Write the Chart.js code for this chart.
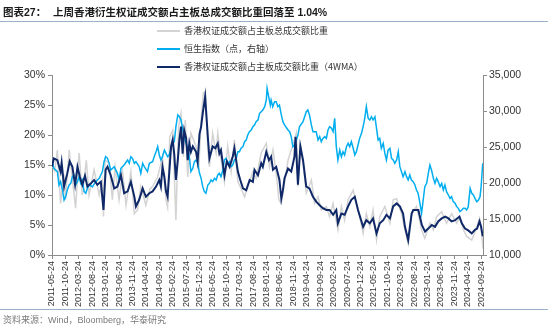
<!DOCTYPE html>
<html>
<head>
<meta charset="utf-8">
<script src="https://cdn.jsdelivr.net/npm/chart.js@4.4.1/dist/chart.umd.min.js"></script>
<style>
  body { margin: 0; width: 550px; height: 331px; overflow: hidden; background: #fff; }
  #chart { position: absolute; left: 0; top: 0; }
  .title { position: absolute; top: 4px; font: bold 10.5px "Liberation Sans", "Noto Sans CJK SC", sans-serif; color: #1a1a1a; white-space: nowrap; }
  .rule  { position: absolute; left: 0; width: 548px; height: 1px; background: #9bb2cc; }
  #foot  { position: absolute; left: 3px; top: 313px; font: 9px "Liberation Sans", "Noto Sans CJK SC", sans-serif; color: #7a7a7a; white-space: nowrap; }
</style>
</head>
<body>
<canvas id="chart" width="550" height="331"></canvas>
<div class="title" style="left:3px">图表27：</div>
<div class="title" style="left:53px">上周香港衍生权证成交额占主板总成交额比重回落至 1.04%</div>
<div class="rule" style="top:21px"></div>
<div class="rule" style="top:309px"></div>
<div id="foot">资料来源：Wind，Bloomberg，华泰研究</div>

<script>
// x = months since 2011-05-24, y = value
const tickLabels = [
  '2011-05-24','2011-10-24','2012-03-24','2012-08-24','2013-01-24','2013-06-24','2013-11-24',
  '2014-04-24','2014-09-24','2015-02-24','2015-07-24','2015-12-24','2016-05-24','2016-10-24',
  '2017-03-24','2017-08-24','2018-01-24','2018-06-24','2018-11-24','2019-04-24','2019-09-24',
  '2020-02-24','2020-07-24','2020-12-24','2021-05-24','2021-10-24','2022-03-24','2022-08-24',
  '2023-01-24','2023-06-24','2023-11-24','2024-04-24','2024-09-24'
];

// 香港权证成交额占主板总成交额比重 (%), weekly raw
const warrantRaw = [
  [0,15.0],[1.0,14.0],[2.0,17.5],[3.2,8.6],[4.4,13.5],[5.0,9.2],[6.4,17.5],[7.5,13.0],[8.8,7.8],
  [10.1,17.0],[11.3,10.0],[12.8,15.8],[13.8,10.0],[15.7,14.2],[17.6,10.0],[18.8,12.5],[19.2,6.4],
  [19.8,15.8],[21.3,15.3],[22.5,9.2],[23.5,14.7],[25.0,9.2],[26.3,13.9],[27.6,8.3],[29.4,13.9],
  [30.7,6.9],[31.9,7.5],[33.1,11.4],[35.0,8.3],[36.5,11.0],[37.5,11.4],[39.4,13.0],[41.2,16.4],
  [42.5,9.2],[43.1,8.0],[43.9,19.7],[45.0,20.8],[46.2,5.8],[47.2,21.4],[48.1,23.6],[49.0,16.4],
  [49.7,22.5],[50.6,13.0],[51.8,20.3],[53.7,18.1],[54.7,14.2],[55.6,22.5],[56.4,27.0],[57.2,27.2],
  [58.1,17.5],[58.7,14.7],[59.9,20.3],[61.2,17.0],[61.8,20.3],[63.0,16.1],[64.3,12.2],[65.5,18.1],
  [66.8,13.9],[68.0,19.2],[69.3,12.2],[70.5,11.1],[71.8,9.7],[73.0,11.4],[74.9,13.9],[76.1,12.8],
  [78.0,17.0],[79.9,18.6],[81.1,14.7],[82.4,17.5],[83.6,13.6],[84.6,9.2],[85.5,8.6],[88.0,15.8],
  [90.4,19.2],[91.1,20.3],[91.7,11.4],[92.6,18.6],[93.6,15.3],[94.8,10.3],[96.7,12.5],[97.9,8.6],
  [99.2,9.7],[100.4,7.5],[102.3,8.1],[103.5,6.4],[104.8,8.6],[106.6,4.2],[107.9,8.1],[109.1,5.8],
  [110.4,9.2],[112.3,10.8],[113.5,8.6],[114.7,6.4],[116.0,3.6],[117.2,6.9],[118.5,4.7],[119.7,7.5],
  [121.0,2.5],[122.2,6.4],[124.1,8.1],[126.0,5.3],[127.2,9.2],[128.5,9.4],[130.3,6.9],[131.6,4.2],
  [132.8,1.9],[134.1,6.9],[135.9,8.1],[137.8,4.2],[139.0,2.8],[140.9,5.3],[142.2,4.2],[143.4,6.4],
  [145.3,7.2],[147.1,5.3],[149.0,6.9],[150.9,5.3],[152.1,6.4],[153.4,4.2],[154.6,3.1],[156.5,2.5],
  [158.4,4.7],[159.4,6.1],[160.2,3.6],[160.7,1.04]
];

// 恒生指数 (点, 右轴)
const hsiIndex = [
  [0,22960],[0.7,22040],[2.0,21580],[2.6,19720],[3.2,20190],[3.9,19030],[4.5,17640],[5.1,18100],
  [5.7,19030],[6.4,19720],[7.0,19950],[7.6,20880],[8.2,21110],[8.8,19720],[9.5,20190],[10.1,20880],
  [10.7,19950],[11.3,20420],[12.0,18800],[12.6,18570],[13.2,19260],[13.8,19720],[15.1,19490],
  [16.3,20190],[17.6,20650],[18.8,21580],[19.4,22960],[20.0,23660],[20.7,23430],[21.3,22730],
  [21.9,21810],[23.2,22270],[24.4,21340],[25.0,20420],[25.7,22040],[26.9,22500],[28.2,23200],
  [28.8,22730],[29.4,23660],[30.0,23430],[30.7,22730],[31.3,22960],[32.5,22270],[33.1,21340],
  [33.8,22730],[34.4,22270],[35.6,21580],[36.3,22730],[37.5,22960],[38.1,23660],[38.8,24350],
  [39.4,25050],[40.0,23890],[40.6,23200],[41.2,23660],[41.9,24580],[42.5,24120],[43.1,23660],
  [43.7,23890],[44.4,24820],[45.0,25510],[45.6,25740],[46.2,27830],[46.9,29450],[47.5,29210],
  [48.1,28750],[48.7,27600],[49.3,26440],[50.0,25510],[50.6,24820],[51.2,23660],[51.8,21580],
  [52.5,22040],[53.1,22960],[53.7,23200],[54.3,22730],[55.0,21340],[55.6,20650],[56.2,19490],
  [56.8,18800],[57.4,18570],[58.1,19720],[58.7,19950],[59.3,20420],[59.9,20190],[60.6,20650],
  [61.2,20420],[61.8,21110],[62.4,21340],[63.0,20880],[63.7,21810],[64.3,23200],[64.9,23430],
  [65.5,22730],[66.2,22960],[66.8,22270],[67.4,22500],[68.0,23200],[68.7,23430],[69.3,24350],
  [69.9,24350],[70.5,24820],[71.2,25050],[71.8,25740],[72.4,25970],[73.0,26670],[73.6,27130],
  [74.3,27360],[74.9,27830],[75.5,28060],[76.1,28520],[76.8,28750],[77.4,29680],[78.0,29910],
  [78.6,30140],[79.3,30600],[79.9,31530],[80.2,33150],[80.9,31760],[81.4,30830],[81.7,31530],
  [82.3,30600],[83.0,31300],[83.6,31300],[84.2,30600],[84.8,30830],[85.5,29450],[86.1,28520],
  [86.7,28060],[88.0,27360],[88.6,27130],[89.2,26440],[89.8,25050],[90.4,25280],[91.1,25970],
  [91.7,26670],[92.3,27830],[93.6,28520],[94.8,29910],[95.4,30140],[96.0,29450],[96.7,28060],
  [97.3,27130],[98.5,27130],[99.2,25970],[99.8,26440],[100.4,25740],[101.0,26200],[101.7,26440],
  [102.3,26200],[102.9,27360],[103.5,27830],[104.2,27600],[104.8,27130],[105.4,28980],[106.0,25050],
  [106.6,23200],[107.3,24580],[107.9,23660],[108.5,24350],[109.1,23890],[109.8,25050],[110.4,25510],
  [111.0,25050],[111.6,25740],[112.3,24820],[112.9,23890],[113.5,24350],[114.1,25280],[114.7,26200],
  [115.4,26900],[116.0,27830],[116.6,28980],[117.2,30600],[117.9,28980],[118.5,28750],[119.1,29210],
  [119.7,28750],[120.4,29210],[121.0,27600],[121.6,25970],[122.2,26200],[122.8,24820],[123.5,25510],
  [124.1,24120],[124.7,23200],[125.3,24580],[126.0,24820],[126.6,23430],[127.2,23200],[127.8,22730],
  [128.5,23200],[129.1,24350],[129.7,22270],[130.3,21580],[130.9,20880],[131.6,21580],[132.2,20880],
  [132.8,20420],[133.4,21110],[134.0,20420],[134.7,20190],[135.3,19720],[135.9,19030],[136.5,18570],
  [137.2,17180],[137.8,15790],[138.4,17640],[139.0,19490],[139.7,19950],[140.3,21340],[140.9,22500],
  [141.5,21810],[142.2,20650],[142.8,19950],[143.4,20650],[144.0,20190],[144.7,19490],[145.3,19950],
  [145.9,19030],[146.5,19720],[147.1,18800],[147.8,18330],[148.4,17870],[149.0,18100],[149.6,17410],
  [150.3,17180],[150.9,16710],[151.5,16480],[152.1,16020],[152.8,16250],[153.4,16480],[154.0,16480],
  [154.6,16250],[155.2,16710],[155.9,19260],[156.5,18570],[157.1,18330],[157.7,17870],[158.4,17410],
  [159.0,17640],[159.6,18100],[160.0,19490],[160.6,22730]
];

// 香港权证成交额占主板成交额比重 (4WMA, %)
const warrant4wma = [
  [0,14.7],[0.7,16.1],[2.0,15.8],[3.2,13.9],[3.6,15.4],[4.5,11.4],[5.7,13.6],[6.6,15.6],[7.6,14.7],
  [8.6,11.7],[9.5,14.7],[10.4,13.0],[11.3,11.7],[12.3,13.2],[13.2,11.4],[14.4,11.9],[15.7,12.5],
  [16.9,11.7],[18.2,12.2],[19.2,7.5],[20.0,14.2],[20.7,14.7],[21.9,13.3],[23.2,11.1],[24.4,11.4],
  [25.7,13.3],[26.9,10.3],[28.2,10.6],[29.4,12.2],[30.7,9.7],[31.3,8.1],[32.5,9.2],[33.8,11.1],
  [35.0,9.7],[36.3,10.3],[37.5,10.6],[38.8,11.4],[40.0,12.5],[40.6,11.4],[41.2,14.7],[41.9,13.0],
  [42.5,10.6],[43.1,9.7],[44.4,18.1],[45.0,19.2],[45.6,16.7],[46.2,12.5],[46.9,15.8],[47.5,19.2],
  [48.1,21.4],[48.7,16.9],[49.3,20.8],[50.0,19.5],[50.6,15.8],[51.2,18.6],[51.8,17.2],[52.5,18.1],
  [53.7,17.2],[54.3,15.6],[55.0,20.2],[55.6,21.4],[56.2,23.6],[57.1,26.4],[58.1,19.7],[58.7,16.1],
  [59.9,18.1],[60.9,17.8],[61.8,18.6],[62.4,16.9],[63.0,17.5],[64.3,13.3],[65.2,15.6],[66.2,14.7],
  [67.4,16.4],[68.0,17.8],[69.3,13.9],[70.2,12.5],[71.2,11.1],[72.4,10.8],[73.7,12.5],[74.9,12.2],
  [75.5,14.2],[76.8,13.3],[78.0,15.3],[78.6,14.7],[79.9,17.2],[80.9,15.8],[81.7,16.4],[82.4,14.2],
  [83.6,14.7],[84.8,12.5],[85.5,9.4],[86.1,10.8],[86.7,12.8],[88.0,14.4],[89.2,13.9],[90.4,16.4],
  [90.8,19.7],[91.7,11.7],[92.6,18.1],[93.6,15.8],[94.8,11.4],[96.0,11.1],[97.3,9.7],[98.5,8.9],
  [99.8,8.3],[101.0,7.8],[102.3,7.5],[103.5,7.5],[104.8,6.7],[106.0,7.5],[106.6,5.3],[107.9,6.9],
  [109.1,6.7],[110.4,8.1],[111.6,9.2],[112.9,9.7],[114.1,7.5],[116.0,4.7],[117.2,5.8],[118.5,5.3],
  [119.7,6.1],[121.0,3.6],[122.2,5.3],[123.5,5.8],[124.7,6.7],[126.0,6.1],[127.2,8.1],[128.5,8.6],
  [129.7,8.1],[130.9,6.9],[131.6,4.7],[132.8,2.5],[134.1,6.9],[134.7,7.5],[136.0,7.5],[136.6,7.5],
  [137.9,5.0],[139.1,3.9],[140.3,4.4],[141.6,5.0],[142.8,4.7],[144.0,5.6],[145.3,6.1],[146.6,6.4],
  [147.8,6.1],[149.0,5.6],[150.3,5.8],[151.9,6.4],[152.8,5.3],[154.0,4.4],[155.2,4.1],[156.5,3.6],
  [157.7,4.2],[158.5,4.4],[159.4,5.6],[160.0,4.7],[160.6,3.1]
];

// month offset of each tick label from 2011-05
const tickMonths = tickLabels.map(s => (+s.slice(0, 4) - 2011) * 12 + (+s.slice(5, 7) - 5));
const toPts = arr => arr.map(([x, y]) => ({ x, y }));

// legend stacked one item per row, above the plot
const stackLegend = {
  id: 'stackLegend',
  afterDraw(chart) {
    const ctx = chart.ctx;
    ctx.save();
    ctx.font = '9px "Noto Sans CJK SC", sans-serif';
    ctx.textBaseline = 'middle';
    chart.data.datasets.forEach((ds, i) => {
      const y = 31 + i * 18;
      ctx.strokeStyle = ds.borderColor;
      ctx.lineWidth = 2;
      ctx.beginPath(); ctx.moveTo(157, y); ctx.lineTo(180, y); ctx.stroke();
      ctx.fillStyle = '#333';
      ctx.fillText(ds.label, 184, y);
    });
    ctx.restore();
  }
};

Chart.defaults.font.family = '"Liberation Sans", Arial, sans-serif';
Chart.defaults.color = '#333';

const axisGrid = { drawOnChartArea: false, drawTicks: true, tickLength: 4, color: '#8c8c8c' };
const axisBorder = { display: true, color: '#8c8c8c', width: 1 };

new Chart(document.getElementById('chart'), {
  type: 'line',
  data: {
    datasets: [
      { label: '香港权证成交额占主板总成交额比重', data: toPts(warrantRaw), yAxisID: 'y',
        borderColor: '#d3d3d3', borderWidth: 1.5, order: 3 },
      { label: '恒生指数（点，右轴）', data: toPts(hsiIndex), yAxisID: 'y2',
        borderColor: '#00aeef', borderWidth: 1.5, order: 2 },
      { label: '香港权证成交额占主板成交额比重（4WMA）', data: toPts(warrant4wma), yAxisID: 'y',
        borderColor: '#0f2868', borderWidth: 2, order: 1 },
    ],
  },
  options: {
    responsive: false,
    animation: false,
    elements: { point: { radius: 0 }, line: { tension: 0 } },
    layout: { padding: { top: 75, left: 0, right: 0, bottom: 0 } },
    plugins: { legend: { display: false }, tooltip: { enabled: false } },
    scales: {
      x: {
        type: 'linear', min: 0, max: 160.7,
        grid: axisGrid, border: axisBorder,
        afterBuildTicks: s => { s.ticks = tickMonths.map(v => ({ value: v })); },
        afterFit: s => { s.height = 76; },
        ticks: {
          autoSkip: false, minRotation: 90, maxRotation: 90, padding: 2,
          font: { size: 9 },
          callback: (v, i) => tickLabels[i],
        },
      },
      y: {
        position: 'left', min: 0, max: 30,
        grid: axisGrid, border: axisBorder,
        afterFit: s => { s.width = 52; },
        ticks: { stepSize: 5, padding: 3, font: { size: 10.5 }, callback: v => v + '%' },
      },
      y2: {
        position: 'right', min: 10000, max: 35000,
        grid: axisGrid, border: axisBorder,
        afterFit: s => { s.width = 67; },
        ticks: { stepSize: 5000, padding: 2, font: { size: 10.5 }, callback: v => v.toLocaleString('en-US') },
      },
    },
  },
  plugins: [stackLegend],
});
</script>
</body>
</html>
